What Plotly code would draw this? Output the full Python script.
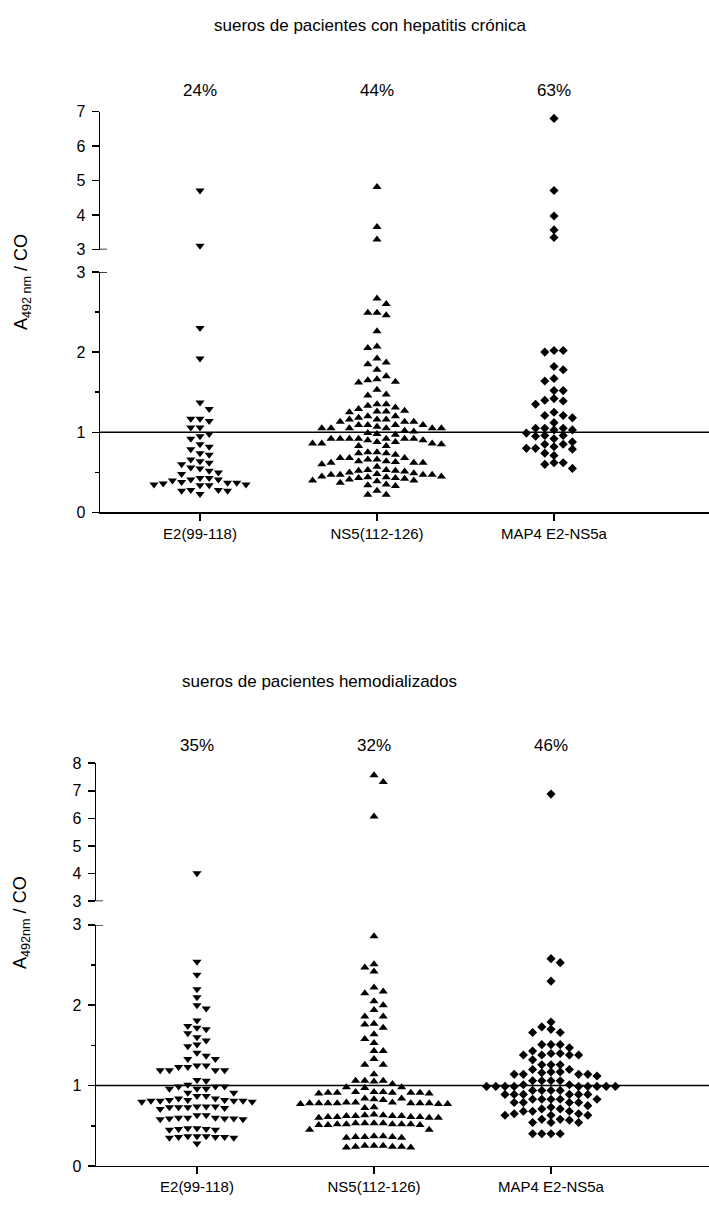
import numpy as np
import plotly.graph_objects as go

W, H = 709, 1205

categories = ["E2(99-118)", "NS5(112-126)", "MAP4 E2-NS5a"]
cat_pos = [1, 2, 3]
title_top = "sueros de pacientes con hepatitis crónica"
title_bottom = "sueros de pacientes hemodializados"
percent_top = ["24%", "44%", "63%"]
percent_bottom = ["35%", "32%", "46%"]

# ---- panel 1: chronic hepatitis sera ----
e2_top = [4.71, 3.11, 2.30, 1.92, 1.37, 1.29, 1.17, 1.14, 1.17, 1.06, 1.06,
          0.98, 0.95, 0.92, 0.85, 0.82, 0.79, 0.74, 0.72, 0.66, 0.64, 0.62, 0.60,
          0.56, 0.55, 0.52, 0.50, 0.48, 0.43, 0.43, 0.41, 0.40, 0.41, 0.38, 0.37,
          0.37, 0.35, 0.35, 0.34, 0.34, 0.36, 0.28, 0.28, 0.27, 0.27, 0.23]
ns5_top = [4.81, 3.65, 3.29, 2.67, 2.60, 2.49, 2.49, 2.46, 2.26, 2.07, 2.05,
           1.92, 1.87, 1.85, 1.78, 1.70, 1.66, 1.65, 1.63, 1.62, 1.53, 1.47,
           1.46, 1.35, 1.35, 1.33, 1.31, 1.29, 1.27, 1.25, 1.26, 1.26, 1.20,
           1.20, 1.18, 1.16, 1.16, 1.16, 1.13, 1.13, 1.13, 1.09, 1.09, 1.09,
           1.09, 1.07, 1.05, 1.05, 1.05, 1.05, 1.05, 1.05, 1.02, 1.01,
           0.99, 0.98, 0.97,
           0.92, 0.92, 0.92, 0.90, 0.92, 0.86, 0.86, 0.88, 0.90, 0.88, 0.92, 0.92, 0.92,
           0.85, 0.83, 0.83, 0.86,
           0.75, 0.74, 0.75,
           0.74, 0.68, 0.68, 0.66, 0.64, 0.62, 0.62, 0.62, 0.63, 0.64, 0.66, 0.68, 0.72,
           0.60,
           0.53, 0.51, 0.50, 0.48, 0.47, 0.47, 0.47, 0.47, 0.49, 0.52, 0.52, 0.53, 0.57,
           0.45, 0.44, 0.43, 0.42, 0.39, 0.40, 0.40, 0.41, 0.43, 0.44, 0.45,
           0.33, 0.35, 0.34, 0.37,
           0.27, 0.22, 0.22]
map4_top = [6.80, 4.71, 3.97, 3.57, 3.35, 2.02, 2.02, 2.00, 1.82, 1.78, 1.67,
            1.64, 1.52, 1.52, 1.42, 1.40, 1.39, 1.35, 1.25, 1.21, 1.21, 1.18,
            1.12, 1.05, 1.05, 1.05, 1.03, 1.03, 0.99, 0.96, 0.96, 0.95, 0.92,
            0.88, 0.85, 0.85, 0.82, 0.80, 0.80, 0.79, 0.74, 0.71, 0.62, 0.62,
            0.60, 0.55]

# ---- panel 2: haemodialysis sera ----
e2_bot = [4.01, 2.54, 2.38, 2.20, 2.10, 2.00, 1.96, 1.81, 1.74, 1.72, 1.70,
          1.65, 1.60, 1.56, 1.51, 1.49, 1.41, 1.37, 1.33, 1.33, 1.25, 1.25,
          1.23, 1.23, 1.19, 1.19, 1.19, 1.19, 1.07, 1.06, 1.01,
          0.99, 0.99, 0.99, 0.96, 0.96, 0.96, 0.91, 0.91, 0.87, 0.84, 0.87, 0.84,
          0.82, 0.81, 0.80, 0.81, 0.82, 0.80, 0.81, 0.82, 0.81,
          0.74, 0.73, 0.72, 0.74, 0.73, 0.71, 0.73, 0.74,
          0.63, 0.63, 0.60, 0.59, 0.58, 0.60, 0.59, 0.58, 0.60, 0.59,
          0.47, 0.46, 0.45, 0.47, 0.46, 0.45,
          0.37, 0.36, 0.35, 0.37, 0.36, 0.35, 0.36, 0.37, 0.28]
ns5_bot = [7.56, 7.32, 6.07, 2.86, 2.51, 2.47, 2.42, 2.22, 2.17, 2.15, 2.05,
           2.00, 1.94, 1.86, 1.86, 1.77, 1.76, 1.72, 1.64, 1.58, 1.53, 1.43,
           1.43, 1.33, 1.26, 1.26, 1.14, 1.06, 1.06, 1.06, 1.05, 1.02,
           0.98, 0.98, 0.97,
           0.91, 0.92, 0.91, 0.90, 0.91, 0.92, 0.91, 0.90, 0.91, 0.92,
           0.84, 0.83, 0.82, 0.84,
           0.78, 0.79, 0.78, 0.77, 0.78, 0.79, 0.78, 0.77, 0.78, 0.79, 0.78, 0.77, 0.78,
           0.73, 0.72,
           0.62, 0.61, 0.60, 0.62, 0.61, 0.64, 0.60, 0.63, 0.61, 0.62, 0.60, 0.61, 0.62, 0.63,
           0.52, 0.53, 0.51, 0.52, 0.53, 0.51, 0.52, 0.53, 0.51, 0.52, 0.53, 0.52,
           0.45, 0.45,
           0.36, 0.37, 0.35, 0.36, 0.37, 0.35, 0.36,
           0.24, 0.25, 0.23, 0.24, 0.25, 0.23, 0.24, 0.25]
map4_bot = [6.88, 2.58, 2.53, 2.30, 1.79, 1.73, 1.70, 1.66, 1.66, 1.51, 1.51,
            1.51, 1.47, 1.43, 1.40, 1.40, 1.38, 1.38, 1.38, 1.38, 1.32, 1.26,
            1.26, 1.26, 1.20, 1.20, 1.17, 1.17, 1.16, 1.14, 1.14, 1.14, 1.14,
            1.12, 1.06, 1.06, 1.06, 1.06, 1.01, 1.01,
            0.99, 0.99, 0.99, 0.99, 0.99, 0.99, 0.99, 0.99, 0.99,
            0.94, 0.94, 0.94, 0.94, 0.89, 0.89, 0.89, 0.89, 0.89, 0.89,
            0.83, 0.83, 0.83, 0.83, 0.83, 0.79, 0.79, 0.79, 0.79, 0.75, 0.73,
            0.71, 0.71, 0.68, 0.68, 0.68, 0.65, 0.65, 0.63, 0.63, 0.63,
            0.58, 0.58, 0.57, 0.54, 0.54, 0.54, 0.40, 0.40, 0.40, 0.40]

symbols = ["triangle-down", "triangle-up", "diamond"]
sizes = [8, 8, 7]
FONT = "Liberation Sans, Arial, sans-serif"

# ---- layout geometry (pixels) ----
P1 = dict(xl=100, c1=200, sp=177, y0=511.7, y3=267.7, y3u=245.0, ytop=105.0, top=7,
          ytitle=278, title_y=18, pct_y=84, title_x=370, title_size=17)
P2 = dict(xl=96, c1=197, sp=177, y0=1174.5, y3=930.0, y3u=906.0, ytop=766.0, top=8,
          ytitle=928, title_y=683, pct_y=748, title_x=319, title_size=17)
STEP_PX = 9.2   # horizontal spacing of swarm points
ROW_PX = 7.0    # vertical collision distance


def to_pix(v, P):
    if v <= 3:
        return P["y0"] - v * (P["y0"] - P["y3"]) / 3.0
    return P["y3u"] - (v - 3) * (P["y3u"] - P["ytop"]) / (P["top"] - 3)


def swarm(values, P):
    ypix = np.array([to_pix(v, P) for v in values])
    order = np.argsort(ypix)
    placed = []
    offs = np.zeros(len(values))
    flip = 1
    for i in order:
        y = ypix[i]
        found = None
        for j in range(0, 80):
            for sgn in ([1] if j == 0 else [flip, -flip]):
                c = sgn * j * STEP_PX / 2.0
                ok = all(not (abs(py - y) < ROW_PX and abs(px - c) < STEP_PX * 0.95)
                         for px, py in placed)
                if ok:
                    found = c
                    break
            if found is not None:
                break
        offs[i] = found
        placed.append((found, y))
        if found != 0:
            flip = -flip
    return offs


fig = go.Figure()


def add_panel(groups, P, xa, ylo, yhi, pct, title, ylabel):
    xl_frac = P["xl"] / W
    ppu = P["sp"]
    x_start = 1 - (P["c1"] - P["xl"]) / ppu
    x_end = 1 + (W - P["c1"]) / ppu
    for g, vals in enumerate(groups):
        offs = swarm(vals, P) / ppu
        vals = np.array(vals)
        xs = cat_pos[g] + offs
        lo = vals <= 3
        hi = ~lo
        for mask, ya in ((lo, ylo), (hi, yhi)):
            if mask.any():
                fig.add_trace(go.Scatter(
                    x=xs[mask], y=vals[mask], mode="markers",
                    xaxis=xa, yaxis=ya, cliponaxis=False, showlegend=False,
                    hoverinfo="skip",
                    marker=dict(symbol=symbols[g], size=sizes[g], color="black",
                                line=dict(width=0))))
    axis_font = dict(family=FONT, size=16, color="black")
    lk = "xaxis" if xa == "x" else "xaxis" + xa[1:]
    lo_k = "yaxis" if ylo == "y" else "yaxis" + ylo[1:]
    hi_k = "yaxis" + yhi[1:]
    fig.layout[lk] = dict(
        domain=[xl_frac, 1.0], range=[x_start, x_end], anchor=ylo,
        showline=True, linecolor="black", linewidth=1.5, ticks="outside",
        ticklen=7, tickwidth=1.5, tickcolor="black", tickvals=cat_pos,
        ticktext=categories, showgrid=False, zeroline=False,
        tickfont=dict(family=FONT, size=15, color="black"))
    fig.layout[lo_k] = dict(
        domain=[1 - P["y0"] / H, 1 - P["y3"] / H], range=[0, 3], anchor=xa,
        showline=True, linecolor="black", linewidth=1.5, ticks="outside",
        ticklen=7, tickwidth=1.5, tickcolor="black", tickvals=[0, 1, 2, 3],
        showgrid=False, zeroline=False, tickfont=axis_font, ticklabelstandoff=3,
        minor=dict(tickvals=[0.5, 1.5, 2.5], ticks="outside", ticklen=4,
                   tickwidth=1.5, tickcolor="black"))
    fig.layout[hi_k] = dict(
        domain=[1 - P["y3u"] / H, 1 - P["ytop"] / H], range=[3, P["top"]], anchor=xa,
        showline=True, linecolor="black", linewidth=1.5, ticks="outside",
        ticklen=7, tickwidth=1.5, tickcolor="black",
        tickvals=list(range(3, P["top"] + 1)),
        showgrid=False, zeroline=False, tickfont=axis_font, ticklabelstandoff=3)
    # reference line at 1
    fig.add_shape(type="line", xref=f"{xa} domain", x0=0, x1=1, yref=ylo, y0=1, y1=1,
                  line=dict(color="black", width=1.5))
    # break caps
    for ya in (ylo, yhi):
        fig.add_shape(type="line", xref="paper", x0=xl_frac, x1=xl_frac + 7 / W,
                      yref=ya, y0=3, y1=3, line=dict(color="black", width=1.5))
    # title
    fig.add_annotation(text=title, xref="paper", yref="paper",
                       x=P["title_x"] / W, y=1 - P["title_y"] / H, showarrow=False,
                       xanchor="center", yanchor="middle",
                       font=dict(family=FONT, size=P["title_size"], color="black"))
    for g, t in enumerate(pct):
        fig.add_annotation(text=t, xref=xa, yref="paper", x=cat_pos[g],
                           y=1 - P["pct_y"] / H, showarrow=False,
                           xanchor="center", yanchor="middle",
                           font=dict(family=FONT, size=17, color="black"))
    fig.add_annotation(text=ylabel, xref="paper", yref="paper", x=22 / W,
                       y=1 - P["ytitle"] / H, showarrow=False, textangle=-90,
                       xanchor="center", yanchor="middle",
                       font=dict(family=FONT, size=18, color="black"))


add_panel([e2_top, ns5_top, map4_top], P1, "x", "y", "y2", percent_top, title_top,
          "A<sub>492 nm</sub> / CO")
add_panel([e2_bot, ns5_bot, map4_bot], P2, "x2", "y3", "y4", percent_bottom,
          title_bottom, "A<sub>492nm</sub> / CO")

fig.update_layout(width=W, height=H, margin=dict(l=0, r=0, t=0, b=0),
                  paper_bgcolor="white", plot_bgcolor="white", showlegend=False)

fig.write_html("out.html",
               config={"displayModeBar": False, "staticPlot": True},
               post_script="document.body.style.margin='0';"
                           "document.body.style.overflow='hidden';")
